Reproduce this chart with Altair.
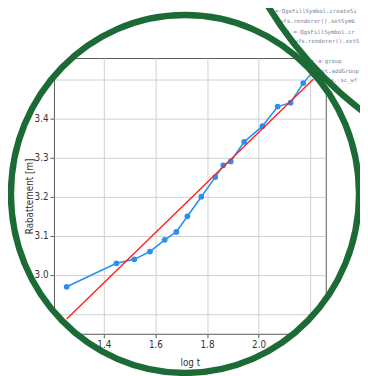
import altair as alt
import pandas as pd

# ---- data ----
log_t = [1.256, 1.449, 1.518, 1.579, 1.636, 1.681, 1.724, 1.778, 1.832,
         1.863, 1.892, 1.944, 2.015, 2.074, 2.124, 2.173, 2.212]
rabattement = [2.97, 3.03, 3.04, 3.06, 3.09, 3.11, 3.15, 3.20, 3.25,
               3.28, 3.29, 3.34, 3.38, 3.43, 3.44, 3.49, 3.52]
fit_log_t = [1.256, 2.212]
fit_rabattement = [2.888, 3.500]
x_ticks = [1.4, 1.6, 1.8, 2.0, 2.2]
y_ticks = [2.9, 3.0, 3.1, 3.2, 3.3, 3.4, 3.5]
code_lines = [
    "=\u00b7QgsFillSymbol.createSi",
    "wfs.renderer().setSymb",
    "t\u00b7=\u00b7QgsFillSymbol.cr",
    "wfs.renderer().setS",
    "c\u00b7a\u00b7group",
    "oot.addGroup",
    "fa,\u00b7sc_wf",
]

FONT = "DejaVu Sans Condensed, DejaVu Sans, sans-serif"
BLUE = "#2b8ff0"
GREEN = "#1c6b37"

obs = pd.DataFrame({"log_t": log_t, "rab": rabattement})
fit = pd.DataFrame({"log_t": fit_log_t, "rab": fit_rabattement})
one = pd.DataFrame({"k": [0]})

xs = alt.Scale(domain=[1.2067, 2.2604], nice=False, zero=False)
ys = alt.Scale(domain=[2.850, 3.554], nice=False, zero=False)

xenc = alt.X("log_t:Q", scale=xs,
             axis=alt.Axis(values=x_ticks, format=".1f", title="log t",
                           titlePadding=8))
yenc = alt.Y("rab:Q", scale=ys,
             axis=alt.Axis(values=y_ticks, format=".1f", title="Rabattement [m]",
                           titlePadding=0))

line = alt.Chart(obs).mark_line(color=BLUE, strokeWidth=1.6).encode(x=xenc, y=yenc)
pts = alt.Chart(obs).mark_point(filled=True, color=BLUE, size=34, opacity=1).encode(
    x="log_t:Q", y="rab:Q")
red = alt.Chart(fit).mark_line(color="#ff1f1f", strokeWidth=1.4).encode(
    x="log_t:Q", y="rab:Q")


def ellipse(cx, cy, rx, ry, color, width):
    r = max(rx, ry)
    ex, ey = rx / r, ry / r
    path = (f"M {-ex:.4f},0 A {ex:.4f},{ey:.4f} 0 1,0 {ex:.4f},0 "
            f"A {ex:.4f},{ey:.4f} 0 1,0 {-ex:.4f},0 Z")
    return alt.Chart(one).mark_point(
        shape=path, filled=False, stroke=color, strokeWidth=width,
        opacity=1, size=(2 * r) ** 2
    ).encode(x=alt.value(cx), y=alt.value(cy))


# page coords -> view coords (view origin at page 55,55)
CX, CY = 189 - 55, 194 - 55
mask = ellipse(CX, CY, 178 + 51, 183 + 51, "white", 100)
circle_a = ellipse(CX, CY, 178, 183, GREEN, 6.5)
circle_b = ellipse(602 - 55, -196 - 55, 383, 383, GREEN, 6.5)

code_pos = [(281, 7), (286, 17), (293, 28), (301, 38), (318, 58), (325, 68), (334, 78)]
texts = []
for s, (px, py) in zip(code_lines, code_pos):
    texts.append(alt.Chart(one).mark_text(
        align="left", baseline="middle", font="DejaVu Sans Mono", fontSize=5.8,
        color="#74809c").encode(x=alt.value(px - 55), y=alt.value(py - 55),
                                text=alt.value(s)))

chart = alt.layer(line, pts, red, mask, *texts, circle_b, circle_a).properties(
    width=278, height=282,
    autosize=alt.AutoSizeParams(type="none"),
    padding={"left": 47, "top": 47, "right": 35, "bottom": 39},
).configure_view(
    stroke="#555555", strokeWidth=1
).configure_axis(
    grid=True, gridColor="#d0d0d0", gridWidth=1,
    domain=False, tickColor="#555555", tickSize=4,
    labelFont=FONT, labelFontSize=10, labelColor="#333333", labelPadding=2,
    titleFont=FONT, titleFontSize=10, titleColor="#333333", titleFontWeight="normal",
)

chart.save("out.html", embed_options={"renderer": "svg", "actions": False})
